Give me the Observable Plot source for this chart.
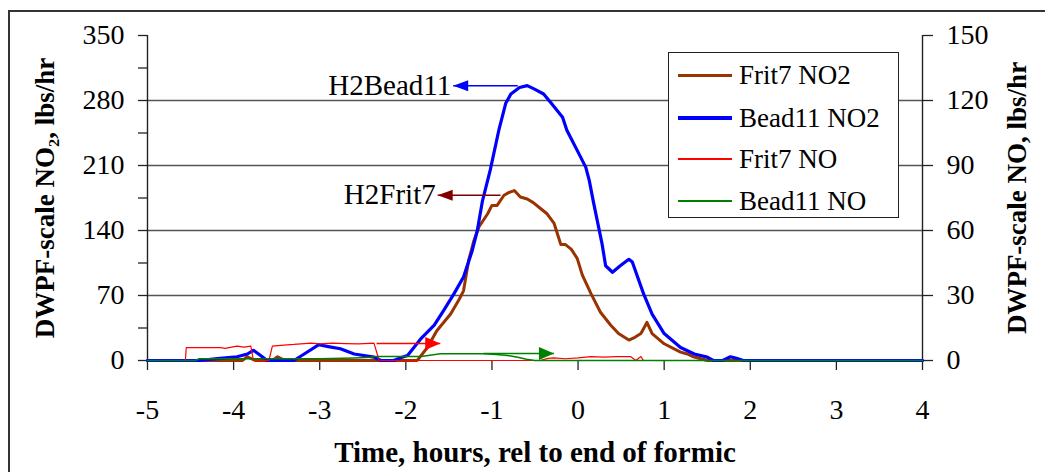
<!DOCTYPE html>
<html><head><meta charset="utf-8">
<script src="https://cdn.jsdelivr.net/npm/d3@7"></script>
<script src="https://cdn.jsdelivr.net/npm/@observablehq/plot@0.6"></script>
<style>
body{margin:0;background:#fff;}
#wrap{position:relative;width:1045px;height:472px;overflow:hidden;font-family:"Liberation Serif","Times New Roman",serif;}
#border{position:absolute;left:8px;top:10px;width:1100px;height:520px;border-left:2px solid #333;border-top:2px solid #333;pointer-events:none;}
#chart{position:absolute;left:0;top:0;}
#legend{position:absolute;left:668px;top:52px;width:229px;height:164px;border:1.5px solid #222;background:#fff;}
#legend .ln{position:absolute;left:9px;width:54px;}
#legend .tx{position:absolute;left:70px;height:32px;line-height:32px;font-size:27px;color:#000;white-space:nowrap;}
</style></head>
<body>
<div id="wrap"><div id="chart"></div><div id="legend"></div><div id="border"></div></div>
<script>
// ---- data (time in hours rel. to end of formic) ----
const frit7NO2_t = [-5,-4.0,-3.9,-3.84,-3.75,-3.55,-3.49,-3.4,-1.87,-1.85,-1.75,-1.64,-1.48,-1.38,-1.33,-1.27,-1.21,-1.15,-1.05,-1.0,-0.94,-0.86,-0.8,-0.74,-0.67,-0.59,-0.52,-0.44,-0.36,-0.28,-0.2,-0.15,-0.08,-0.01,0.05,0.15,0.26,0.38,0.47,0.59,0.66,0.73,0.8,0.86,1.0,1.19,1.27,1.34,1.5,4];
const frit7NO2_v = [0,0,0,4,0,0,4,0,0,2,14,32,50,66,75,108,129,144,158,167,167,178,181,183,176,174,170,164,158,148,125,125,120,110,92,72,52,38,29,22,25,29,41,29,18,9,7,4,0,0];

const bead11NO2_t = [-5,-4.4,-4.19,-3.96,-3.84,-3.77,-3.71,-3.61,-3.3,-3.18,-3.01,-2.9,-2.76,-2.6,-2.37,-2.29,-2.14,-2.06,-1.98,-1.83,-1.67,-1.56,-1.44,-1.33,-1.23,-1.17,-1.11,-1.02,-0.92,-0.84,-0.78,-0.68,-0.59,-0.5,-0.4,-0.32,-0.18,-0.13,0.03,0.09,0.13,0.18,0.28,0.32,0.40,0.49,0.59,0.63,0.76,0.86,1.0,1.19,1.35,1.5,1.57,1.68,1.77,1.85,1.92,4];
const bead11NO2_v = [0,0,2,4,7,11,7,0,0,7,17,15,12.6,7,3.6,0,0,3,5.4,23,38,54,72,90,118,140,172,205,248,277,287,294,296,292,287,278,262,248,219,208,194,170,125,102,95,102,109,106,72,50,29,14,7,3.6,0,0,4,2,0,0];

const frit7NO_t = [-5,-4.56,-4.55,-4.48,-4.3,-4.15,-4.1,-3.96,-3.88,-3.8,-3.77,-3.59,-3.55,-3.45,-3.3,-3.22,-3.1,-3.0,-2.85,-2.7,-2.55,-2.37,-2.31,-0.44,-0.35,-0.28,-0.15,0.0,0.15,0.3,0.45,0.61,0.67,0.73,0.76,4];
const frit7NO_v = [0,0,5.9,5.9,5.9,5.9,5.6,6.6,6.2,6.6,0,0,6.6,7.0,7.4,7.7,8.0,7.7,8.0,7.8,7.7,8.0,0,0,1.0,1.2,0.8,1.2,1.8,1.6,1.8,1.8,0,1.8,0,0];

const bead11NO_t = [-5,-4.45,-4.4,-3.5,-3.0,-2.6,-2.4,-2.37,-1.87,-1.8,-1.6,-1.3,-1.09,-0.95,-0.82,-0.7,-0.6,-0.5,4];
const bead11NO_v = [0,0,0.8,0.8,0.8,1.2,1.5,1.8,1.8,2.0,3.1,3.1,3.1,2.8,2.3,1.5,0.6,0,0];

// axes / ticks
const xTicks = [-5,-4,-3,-2,-1,0,1,2,3,4];
const leftTicks = [0,70,140,210,280,350];
const leftMinor = [35,105,175,245,315];
const rightTicks = [0,30,60,90,120,150];
const gridLines = [70,140,210,280];
const leftMax = 350, rightMax = 150;

// annotations
const noteLabels = ["H2Bead11","H2Frit7"];
const noteColors = ["#0000ff","#800000"];
const noteY = [296,178];
const noteFrom = [-0.70,-0.90];
const noteTo = [-1.45,-1.63];
const markerColors = ["#ff0000","#008000"];
const markerY = [7.8,3.2];           // right-axis units
const markerFrom = [-2.34,-1.10];
const markerTo = [-1.60,-0.28];

const series = [
  {name:"Frit7 NO2", t:frit7NO2_t, v:frit7NO2_v, color:"#993300", w:3, right:false},
  {name:"Bead11 NO2", t:bead11NO2_t, v:bead11NO2_v, color:"#0000ff", w:3.2, right:false},
  {name:"Frit7 NO", t:frit7NO_t, v:frit7NO_v, color:"#ff0000", w:1.2, right:true},
  {name:"Bead11 NO", t:bead11NO_t, v:bead11NO_v, color:"#008000", w:1.5, right:true}
];
const k = leftMax/rightMax;

const headLeft = {draw(c){c.moveTo(0,0);c.lineTo(15,-5.5);c.lineTo(15,5.5);c.closePath();}};
const headRight = {draw(c){c.moveTo(0,0);c.lineTo(-15,-6.5);c.lineTo(-15,6.5);c.closePath();}};

const notes = noteLabels.map((s,i)=>({s, c:noteColors[i], y:noteY[i], x1:noteFrom[i], x2:noteTo[i]}));
const markers = markerColors.map((c,i)=>({c, y:markerY[i]*k, x1:markerFrom[i], x2:markerTo[i]}));

const lineMarks = series.map(s => Plot.line(s.t.map((t,i)=>({t, v: s.right ? s.v[i]*k : s.v[i]})),
  {x:"t", y:"v", stroke:s.color, strokeWidth:s.w, strokeLinejoin:"round"}));

const FS = 28;
const plot = Plot.plot({
  width:1045, height:472,
  marginLeft:147, marginRight:123, marginTop:35, marginBottom:112,
  x:{domain:[-5,4]},
  y:{domain:[0,leftMax]},
  style:{fontFamily:'"Liberation Serif","Times New Roman",serif', fontSize:FS+"px", background:"transparent", color:"#000"},
  marks:[
    Plot.ruleY(gridLines, {stroke:"#555", strokeWidth:1.3}),
    Plot.axisY({ticks:leftTicks, tickSize:9, tickPadding:14, label:null, fontSize:FS, stroke:"#222", strokeWidth:1.3}),
    Plot.axisY({ticks:leftMinor, tickSize:9, tickFormat:()=>"", label:null, stroke:"#222", strokeWidth:1.3}),
    Plot.axisY({anchor:"right", ticks:rightTicks.map(d=>d*k), tickFormat:d=>String(Math.round(d/k)), tickSize:10, tickPadding:14, label:null, fontSize:FS, stroke:"#222", strokeWidth:1.3}),
    Plot.axisX({ticks:xTicks, tickSize:10, tickPadding:29, tickFormat:d=>String(d), label:null, fontSize:FS, stroke:"#222", strokeWidth:1.3}),
    Plot.ruleX([-5,4], {stroke:"#222", strokeWidth:1.4}),
    ...lineMarks,
    // annotations
    Plot.link(notes, {x1:"x1", x2:"x2", y1:"y", y2:"y", stroke:"c", strokeWidth:1.5}),
    Plot.dot(notes, {x:"x2", y:"y", symbol:headLeft, fill:"c", stroke:"none"}),
    Plot.text(notes, {x:"x2", y:"y", text:"s", textAnchor:"end", dx:-2, fontSize:29, fill:"#000"}),
    Plot.link(markers, {x1:"x1", x2:"x2", y1:"y", y2:"y", stroke:"c", strokeWidth:1.5}),
    Plot.dot(markers, {x:"x2", y:"y", symbol:headRight, fill:"c", stroke:"none"}),
    // axis titles
    Plot.text(["Time, hours, rel to end of formic"], {frameAnchor:"bottom", textAnchor:"middle", dy:101, fontWeight:"bold", fontSize:29, fill:"#000"}),
    Plot.text(["DWPF-scale NO\u2082, lbs/hr"], {frameAnchor:"left", textAnchor:"middle", dx:-102, rotate:-90, fontWeight:"bold", fontSize:27, fill:"#000"}),
    Plot.text(["DWPF-scale NO, lbs/hr"], {frameAnchor:"right", textAnchor:"middle", dx:95, rotate:-90, fontWeight:"bold", fontSize:27, fill:"#000"})
  ]
});
document.getElementById("chart").appendChild(plot);

// legend
const leg = document.getElementById("legend");
const rowY = [22,65,106,148];
series.forEach((s,i)=>{
  const ln = document.createElement("div");
  ln.className="ln"; ln.style.top=(rowY[i]-s.w/2)+"px"; ln.style.height=s.w+"px"; ln.style.background=s.color;
  leg.appendChild(ln);
  const tx = document.createElement("div");
  tx.className="tx"; tx.style.top=(rowY[i]-16)+"px"; tx.textContent=s.name;
  leg.appendChild(tx);
});
</script>
</body></html>
